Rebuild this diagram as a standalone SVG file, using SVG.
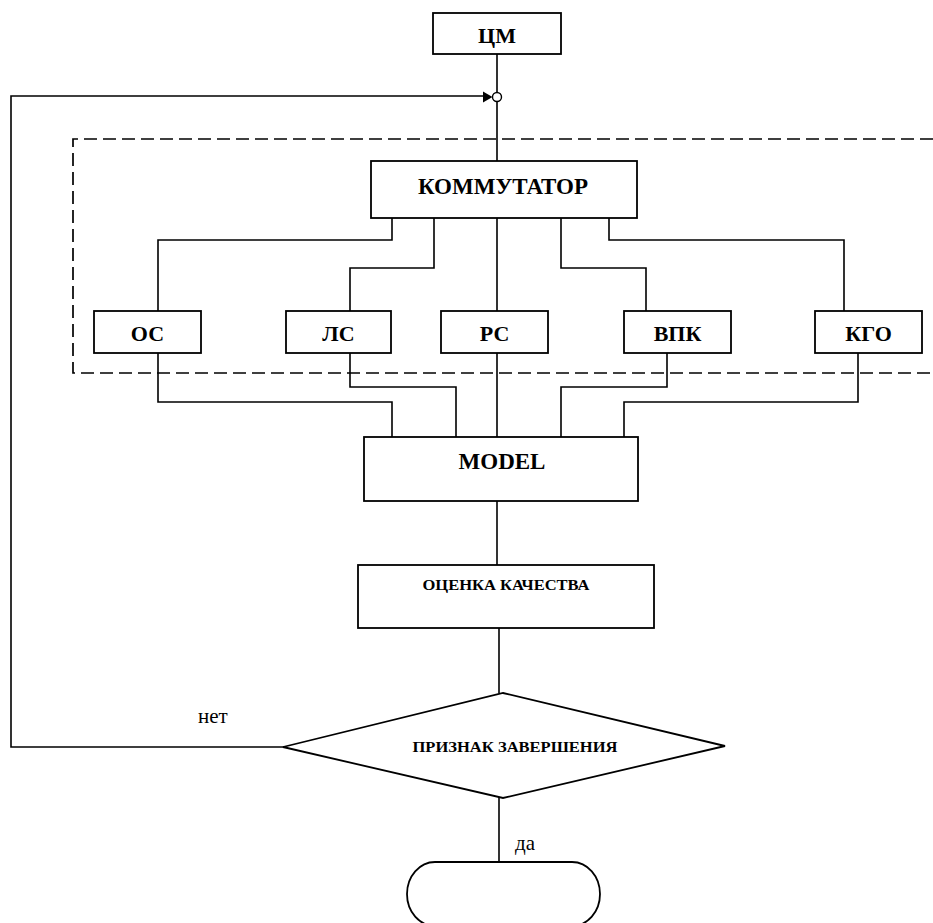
<svg xmlns="http://www.w3.org/2000/svg" width="933" height="923" viewBox="0 0 933 923">
<style>
.box{fill:#fff;stroke:#000;stroke-width:1.8}
.ln{fill:none;stroke:#000;stroke-width:1.6}
.dash{fill:none;stroke:#000;stroke-width:1.7;stroke-dasharray:13,6}
.lb{font-family:"Liberation Serif","Times New Roman",serif;font-weight:bold;fill:#000;text-anchor:middle}
.rg{font-family:"Liberation Serif","Times New Roman",serif;fill:#000}
</style>
<rect width="933" height="923" fill="#fff"/>
<path class="dash" d="M933,139 H73 V373 H933"/>
<g id="connectors">
<path class="ln" d="M497,54 V92.5 M497,101.5 V161"/>
<circle cx="497" cy="97" r="4.5" fill="#fff" stroke="#000" stroke-width="1.4"/>
<path class="ln" d="M283,747 H11 V96 H484"/>
<polygon points="483,91.5 492.5,97 483,102.5" fill="#000"/>
<path class="ln" d="M392,218 V240 H158 V311"/>
<path class="ln" d="M434,218 V268 H350 V311"/>
<path class="ln" d="M497,218 V311 M497,353 V437"/>
<path class="ln" d="M561,218 V268 H646 V311"/>
<path class="ln" d="M609,218 V240 H844 V311"/>
<path class="ln" d="M158,353 V402 H392 V437"/>
<path class="ln" d="M350,353 V387 H456 V437"/>
<path class="ln" d="M667,353 V387 H561 V437"/>
<path class="ln" d="M858,353 V402 H624 V437"/>
<path class="ln" d="M497,501 V565"/>
<path class="ln" d="M499,628 V693"/>
<path class="ln" d="M499,797 V862"/>
</g>
<text class="rg" x="198" y="723" font-size="21">нет</text>
<text class="rg" x="515" y="850" font-size="21">да</text>
<g id="cm"><rect class="box" x="433" y="13" width="128" height="41"/><text class="lb" x="497" y="43" font-size="22">ЦМ</text></g>
<g id="kommutator"><rect class="box" x="371" y="161" width="266" height="57"/><text class="lb" x="503" y="194" font-size="23">КОММУТАТОР</text></g>
<g id="os"><rect class="box" x="94" y="311" width="107" height="42"/><text class="lb" x="147.5" y="341" font-size="22">ОС</text></g>
<g id="ls"><rect class="box" x="286" y="311" width="105" height="42"/><text class="lb" x="338.5" y="341" font-size="22">ЛС</text></g>
<g id="rs"><rect class="box" x="441" y="311" width="107" height="42"/><text class="lb" x="494.5" y="341" font-size="22">РС</text></g>
<g id="vpk"><rect class="box" x="624" y="311" width="107" height="42"/><text class="lb" x="677.5" y="341" font-size="22">ВПК</text></g>
<g id="kgo"><rect class="box" x="815" y="311" width="107" height="42"/><text class="lb" x="868.5" y="341" font-size="22">КГО</text></g>
<g id="model"><rect class="box" x="364" y="437" width="274" height="64"/><text class="lb" x="502" y="469" font-size="23">MODEL</text></g>
<g id="ocenka"><rect class="box" x="358" y="565" width="296" height="63"/><text class="lb" x="506" y="590" font-size="15" textLength="167" lengthAdjust="spacingAndGlyphs">ОЦЕНКА КАЧЕСТВА</text></g>
<g id="priznak"><polygon class="box" points="503,693 725,746 503,798 283,747"/><text class="lb" x="515" y="752" font-size="14" textLength="205" lengthAdjust="spacingAndGlyphs">ПРИЗНАК ЗАВЕРШЕНИЯ</text></g>
<g id="end"><rect class="box" x="407" y="862" width="193" height="64" rx="28" ry="32"/></g>
</svg>
